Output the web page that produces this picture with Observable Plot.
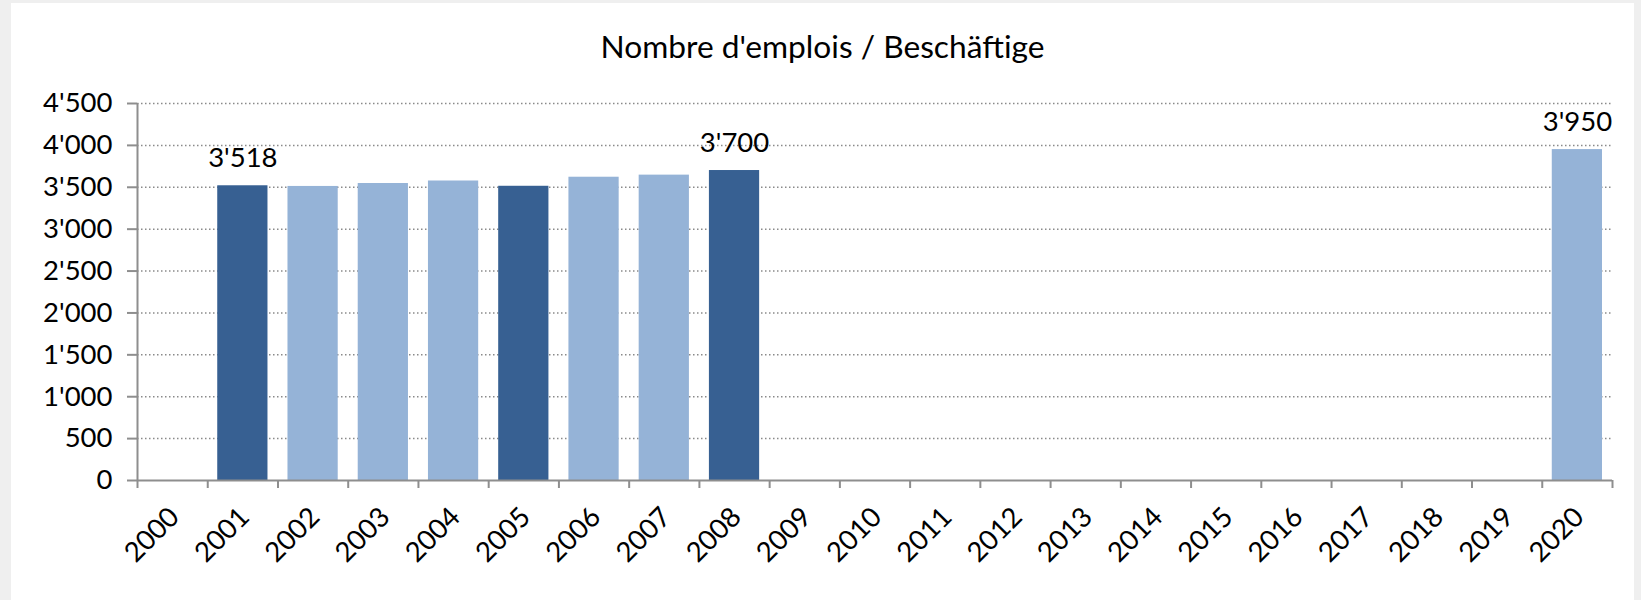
<!DOCTYPE html>
<html>
<head>
<meta charset="utf-8">
<script src="https://cdn.jsdelivr.net/npm/d3@7"></script>
<script src="https://cdn.jsdelivr.net/npm/@observablehq/plot@0.6"></script>
<style>
  html, body { margin: 0; padding: 0; }
  body { width: 1641px; height: 600px; background: #efefef; position: relative; overflow: hidden; font-family: Lato, "Open Sans", sans-serif; }
  #panel { position: absolute; left: 11px; top: 3px; width: 1623px; height: 597px; background: #ffffff; }
  #title { position: absolute; left: 11px; width: 1623px; top: 31px; text-align: center; font-size: 31.7px; line-height: 31px; color: #000; font-family: Lato, sans-serif; }
  #chart { position: absolute; left: 0; top: 75px; }
</style>
</head>
<body>
<div id="panel"></div>
<div id="title">Nombre d'emplois / Beschäftige</div>
<div id="chart"></div>
<script>
// ---- data ----
const years = [2000, 2001, 2002, 2003, 2004, 2005, 2006, 2007, 2008, 2009, 2010,
               2011, 2012, 2013, 2014, 2015, 2016, 2017, 2018, 2019, 2020];
const values = [null, 3518, 3510, 3545, 3575, 3512, 3620, 3645, 3700, null, null,
                null, null, null, null, null, null, null, null, null, 3950];
const darkYears = [2001, 2005, 2008];
const labelYears = [2001, 2008, 2020];
const yTicks = [0, 500, 1000, 1500, 2000, 2500, 3000, 3500, 4000, 4500];

const fmt = d3.formatLocale({decimal: ".", thousands: "'", grouping: [3], currency: ["", ""]}).format(",d");

const data = years.map((year, i) => ({year, value: values[i]})).filter(d => d.value != null);
const boundaries = years.map(y => y - 0.5).concat([years[years.length - 1] + 0.5]);

const axisColor = "#8e8e8e";

const chart = Plot.plot({
  width: 1641,
  height: 525,
  marginTop: 28,
  marginBottom: 120,
  marginLeft: 137,
  marginRight: 29,
  style: {fontFamily: "Lato, sans-serif", fontSize: "27.5px", color: "#000", background: "transparent", overflow: "visible"},
  x: {type: "linear", domain: [boundaries[0], boundaries[boundaries.length - 1]], label: null},
  y: {domain: [0, 4500], label: null},
  color: {type: "identity"},
  marks: [
    Plot.gridY(yTicks.filter(v => v > 0), {stroke: "#8a8a8a", strokeOpacity: 1, strokeWidth: 1.5, strokeDasharray: "1.5,2.5"}),
    Plot.rectY(data, {
      x1: d => d.year - 0.5,
      x2: d => d.year + 0.5,
      y: "value",
      insetLeft: 10,
      insetRight: 10,
      fill: d => darkYears.includes(d.year) ? "#376092" : "#95b3d7"
    }),
    Plot.ruleY([0], {stroke: axisColor, strokeWidth: 2}),
    Plot.ruleX([boundaries[0]], {stroke: axisColor, strokeWidth: 2}),
    Plot.axisY({ticks: yTicks, tickSize: 10, tickPadding: 15, tickFormat: fmt, stroke: axisColor, strokeWidth: 2, fill: "#000", label: null}),
    Plot.axisX({ticks: boundaries, tickSize: 8, tickFormat: () => "", stroke: axisColor, strokeWidth: 2, label: null}),
    Plot.axisX({ticks: years, tickSize: 0, tickPadding: 32, tickRotate: -45, tickFormat: d => String(d), dx: 2, fill: "#000", label: null}),
    Plot.text(data.filter(d => labelYears.includes(d.year)), {
      x: "year", y: "value", text: d => fmt(d.value), lineAnchor: "bottom", dy: -19, fill: "#000"
    })
  ]
});
document.getElementById("chart").appendChild(chart);
</script>
</body>
</html>
